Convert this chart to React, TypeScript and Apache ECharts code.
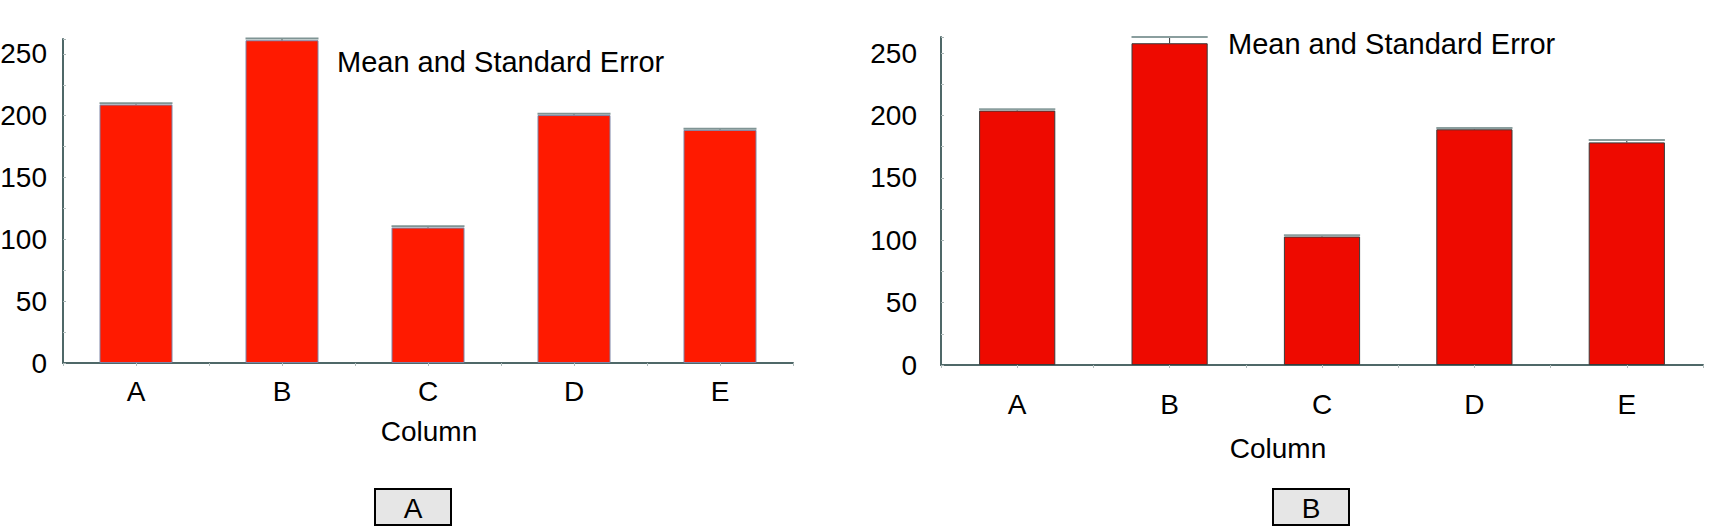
import { useEffect, useRef } from 'react';
import * as echarts from 'echarts';

// 数据
const categories = ['A', 'B', 'C', 'D', 'E'];
const meansA = [209, 261, 109.5, 200.5, 188.5];
const errorsA = [1, 1.5, 1, 1, 1];
const meansB = [204, 258, 103, 189, 178.5];
const errorsB = [1, 5, 1, 1, 2];
const yInterval = 50;
const yMaxA = 262;
const yMaxB = 263;
const titleText = 'Mean and Standard Error';
const axisTitle = 'Column';
const panelLabels = ['A', 'B'];

const FONT = '"Liberation Sans", Arial, sans-serif';
const AXIS_COLOR = '#4f6868';

const errorRender = (capColor: string) => (params: any, api: any) => {
  const mean = api.coord([api.value(0), api.value(1)]);
  const high = api.coord([api.value(0), api.value(2)]);
  const w = api.size([1, 0])[0] * 0.5;
  return {
    type: 'group',
    children: [
      {
        type: 'line',
        shape: { x1: high[0], y1: high[1], x2: mean[0], y2: mean[1] },
        style: { stroke: '#333', lineWidth: 1 },
      },
      {
        type: 'line',
        shape: { x1: high[0] - w / 2, y1: high[1], x2: high[0] + w / 2, y2: high[1] },
        style: { stroke: capColor, lineWidth: 2 },
      },
    ],
  };
};

const makeYAxis = (gridIndex: number, max: number, margin: number) => ({
  type: 'value',
  gridIndex,
  min: 0,
  max,
  interval: yInterval,
  axisLine: { show: true, lineStyle: { color: AXIS_COLOR, width: 2 } },
  axisTick: { show: true, inside: true, length: 3, lineStyle: { color: '#a8b4b4' } },
  minorTick: { show: true, splitNumber: 2, length: 3, lineStyle: { color: '#b8c2c2' } },
  splitLine: { show: false },
  axisLabel: {
    showMaxLabel: false,
    margin,
    color: '#000',
    fontSize: 28,
    fontFamily: FONT,
  },
});

const makeXAxes = (gridIndex: number, margin: number) => [
  {
    type: 'category',
    gridIndex,
    data: categories,
    axisLine: { show: true, lineStyle: { color: AXIS_COLOR, width: 2 } },
    axisTick: { show: true, length: 3, lineStyle: { color: '#b0bcbc' } },
    axisLabel: { margin, color: '#000', fontSize: 28, fontFamily: FONT },
  },
  {
    // 仅用于类目中心的小刻度
    type: 'category',
    gridIndex,
    position: 'bottom',
    data: categories,
    axisLine: { show: false },
    axisTick: { show: true, alignWithLabel: true, length: 3, lineStyle: { color: '#b0bcbc' } },
    axisLabel: { show: false },
  },
];

const App = () => {
  const chartDom = useRef<HTMLDivElement>(null);

  useEffect(() => {
    const chart = echarts.init(chartDom.current, null, { renderer: 'svg' });

    const text = (x: number, y: number, t: string, align = 'center', size = 28) => ({
      type: 'text',
      x,
      y,
      style: {
        text: t,
        fill: '#000',
        font: `${size}px ${FONT}`,
        align,
        verticalAlign: 'middle',
        textAlign: align,
        textVerticalAlign: 'middle',
      },
    });
    const box = (x: number, label: string) => ({
      type: 'group',
      children: [
        {
          type: 'rect',
          shape: { x, y: 489, width: 76, height: 36 },
          style: { fill: '#e6e6e6', stroke: '#000', lineWidth: 2 },
        },
        text(x + 38, 508, label),
      ],
    });

    const option = {
      animation: false,
      backgroundColor: '#fff',
      grid: [
        { left: 63, right: 923, top: 39, bottom: 163, containLabel: false, outerBoundsMode: 'none' },
        { left: 941, right: 13, top: 37, bottom: 161, containLabel: false, outerBoundsMode: 'none' },
      ],
      xAxis: [...makeXAxes(0, 14), ...makeXAxes(1, 25)],
      yAxis: [makeYAxis(0, yMaxA, 16), makeYAxis(1, yMaxB, 24)],
      series: [
        {
          type: 'bar',
          xAxisIndex: 0,
          yAxisIndex: 0,
          data: meansA,
          barWidth: '50%',
          itemStyle: { color: '#ff1a00', borderColor: '#7d84a6', borderWidth: 1 },
        },
        {
          type: 'custom',
          xAxisIndex: 0,
          yAxisIndex: 0,
          data: meansA.map((m, i) => [i, m, m + errorsA[i]]),
          renderItem: errorRender('#7f9494'),
          z: 5,
        },
        {
          type: 'bar',
          xAxisIndex: 2,
          yAxisIndex: 1,
          data: meansB,
          barWidth: '50%',
          itemStyle: { color: '#ee0a00', borderColor: '#3a3a3a', borderWidth: 1 },
        },
        {
          type: 'custom',
          xAxisIndex: 2,
          yAxisIndex: 1,
          data: meansB.map((m, i) => [i, m, m + errorsB[i]]),
          renderItem: errorRender('#8a9e9e'),
          z: 5,
        },
      ],
      graphic: [
        text(337, 62, titleText, 'left', 29),
        text(1228, 44, titleText, 'left', 29),
        text(429, 431, axisTitle),
        text(1278, 448, axisTitle),
        box(375, panelLabels[0]),
        box(1273, panelLabels[1]),
      ],
    };

    chart.setOption(option as any);
    return () => {
      chart.dispose();
    };
  }, []);

  return (
    <div
      ref={chartDom}
      style={{ position: 'absolute', left: 0, top: 0, width: 1716, height: 526 }}
    />
  );
};

export default App;
